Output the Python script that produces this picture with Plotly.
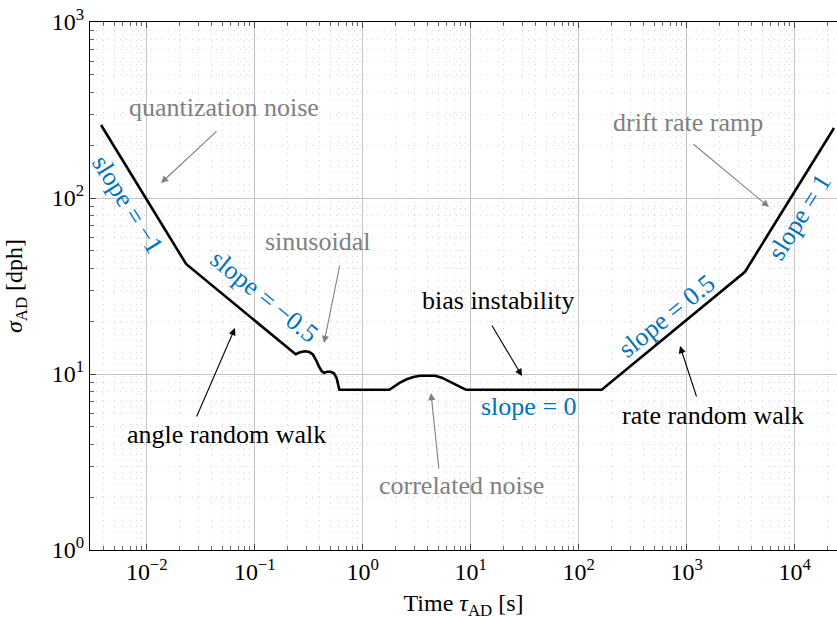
import plotly.graph_objects as go

# Allan deviation curve (tau in s, sigma in deg/h)
tau = [0.00377, 0.0231, 0.239, 0.262, 0.292, 0.318, 0.344, 0.369, 0.393, 0.416,
       0.437, 0.469, 0.504, 0.541, 0.573, 0.593, 0.606,
       1.759, 1.987, 2.210, 2.550, 2.936, 3.385, 4.042, 4.661, 5.378, 6.190,
       7.140, 8.236, 9.028,
       163.0, 3460.0, 23070.0]
sigma = [260.0, 42.2, 12.94, 13.28, 13.46, 13.34, 12.94, 12.01, 11.00, 10.40,
         10.17, 10.30, 10.30, 10.09, 9.45, 8.66, 8.14,
         8.14, 8.55, 8.93, 9.33, 9.62, 9.78, 9.83, 9.78, 9.53, 9.16,
         8.74, 8.36, 8.14,
         8.14, 38.1, 250.0]

x_tickvals = [1e-2, 1e-1, 1e0, 1e1, 1e2, 1e3, 1e4]
x_ticktext = ["10<sup>−2</sup>", "10<sup>−1</sup>", "10<sup>0</sup>", "10<sup>1</sup>",
              "10<sup>2</sup>", "10<sup>3</sup>", "10<sup>4</sup>"]
y_tickvals = [1e0, 1e1, 1e2, 1e3]
y_ticktext = ["10<sup>0</sup>", "10<sup>1</sup>", "10<sup>2</sup>", "10<sup>3</sup>"]

W, H = 837, 621
L, R, T, B = 90, 0, 22, 71
PW, PH = W - L - R, H - T - B

FONT = "Liberation Serif"
BLUE = "#0072BD"
GRAY = "#808080"
BLACK = "#000000"


def paper(px, py):
    return (px - L) / PW, (H - B - py) / PH


labels = [
    ("quantization noise", GRAY, 224, 108, 0),
    ("slope = −1", BLUE, 128, 204, 58),
    ("slope = −0.5", BLUE, 264, 297, 39),
    ("sinusoidal", GRAY, 317, 242, 0),
    ("bias instability", BLACK, 498, 300, 0),
    ("slope = 0", BLUE, 529, 406, 0),
    ("correlated noise", GRAY, 461, 485, 0),
    ("angle random walk", BLACK, 226, 434, 0),
    ("rate random walk", BLACK, 713, 415, 0),
    ("slope = 0.5", BLUE, 666, 316, -39),
    ("drift rate ramp", GRAY, 688, 122, 0),
    ("slope = 1", BLUE, 800, 217, -58),
]

arrows = [
    (GRAY, 218, 130, 161, 183),
    (GRAY, 340, 264, 324, 343),
    (BLACK, 491, 324, 522, 376),
    (GRAY, 439, 470, 431, 393),
    (BLACK, 196, 418, 235, 328),
    (BLACK, 697, 398, 680, 346),
    (GRAY, 692, 143, 769, 207),
]

annotations = []
for text, color, px, py, ang in labels:
    xp, yp = paper(px, py)
    annotations.append(dict(
        text=text, x=xp, y=yp, xref="paper", yref="paper",
        xanchor="center", yanchor="middle", showarrow=False,
        textangle=ang, font=dict(family=FONT, size=26, color=color)))

for color, tx, ty, hx, hy in arrows:
    xp, yp = paper(hx, hy)
    annotations.append(dict(
        text="", x=xp, y=yp, xref="paper", yref="paper",
        ax=tx - hx, ay=ty - hy, axref="pixel", ayref="pixel",
        showarrow=True, arrowhead=2, arrowsize=1.3, arrowwidth=1.1,
        arrowcolor=color, standoff=0, startstandoff=0))

fig = go.Figure()
fig.add_trace(go.Scatter(x=tau, y=sigma, mode="lines",
                         line=dict(color="black", width=2.6),
                         hoverinfo="skip", showlegend=False))

axis_common = dict(
    type="log", showline=True, linecolor="black", linewidth=1.3,
    ticks="inside", ticklen=6, tickcolor="#444444", tickwidth=1,
    showgrid=True, gridcolor="#c4c4c4", gridwidth=1, zeroline=False,
    tickfont=dict(family=FONT, size=24, color="black"),
    minor=dict(dtick="D1", ticks="inside", ticklen=4, tickcolor="#666666",
               showgrid=True, gridcolor="#d4d4d4", griddash="1px,5px", gridwidth=1),
)

fig.update_layout(
    width=W, height=H,
    margin=dict(l=L, r=R, t=T, b=B),
    paper_bgcolor="white", plot_bgcolor="white",
    font=dict(family=FONT, color="black"),
    showlegend=False,
    annotations=annotations,
    xaxis=dict(axis_common, range=[-2.526, -2.526 + PW / 108.0],
               tickmode="array", tickvals=x_tickvals, ticktext=x_ticktext,
               mirror="ticks",
               title=dict(text="Time <i>τ</i><sub>AD</sub> [s]",
                          font=dict(family=FONT, size=24), standoff=10)),
    yaxis=dict(axis_common, range=[0, 3],
               tickmode="array", tickvals=y_tickvals, ticktext=y_ticktext,
               title=dict(text="<i>σ</i><sub>AD</sub> [dph]",
                          font=dict(family=FONT, size=24), standoff=22)),
)

fig.write_html("out.html")
